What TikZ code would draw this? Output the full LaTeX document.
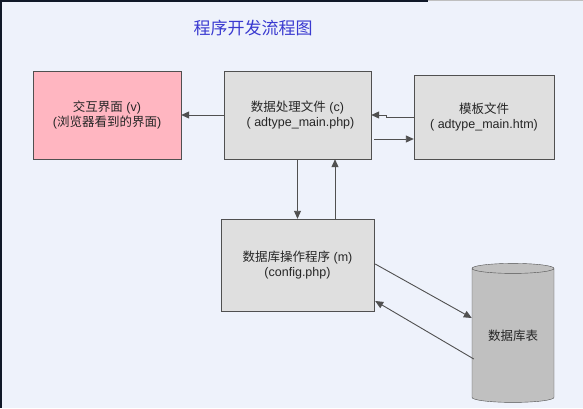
\documentclass[tikz,border=0pt]{standalone}
\usepackage{fontspec}
\setmainfont{Liberation Sans}
\newfontfamily\cjk{Noto Sans CJK SC}
\usetikzlibrary{arrows.meta,shapes.geometric}
\definecolor{bgcol}{RGB}{238,242,251}
\definecolor{edgecol}{RGB}{80,80,80}
\definecolor{boxgray}{RGB}{223,223,223}
\definecolor{boxpink}{RGB}{255,182,193}
\definecolor{dbgray}{RGB}{192,192,192}
\definecolor{titleblue}{RGB}{58,58,208}
\definecolor{framecol}{RGB}{16,24,40}
\begin{document}
\begin{tikzpicture}[x=1pt,y=-1pt,
    box/.style={draw=edgecol,fill=boxgray,align=center,font=\fontsize{12.5}{15}\selectfont,text=black!85,inner sep=0pt},
    arr/.style={draw=edgecol,line width=0.9pt,-{Triangle[length=8pt,width=7pt]}}]
    \fill[bgcol] (0,0) rectangle (583,408);
    \useasboundingbox (0,0) rectangle (583,408);
    \draw[framecol,line width=1.5pt] (0.75,408) -- (0.75,0.75) -- (428,0.75);
    \draw[black!25,line width=1pt] (428,0.5) -- (583,0.5);
    \node[text=titleblue,font=\cjk\fontsize{17}{20}\selectfont] (title) at (253,28) {程序开发流程图};
    \node[box,fill=boxpink,minimum width=148pt,minimum height=88pt] (v) at (107,115)
        {{\cjk 交互界面} (v)\\({\cjk 浏览器看到的界面})};
    \node[box,minimum width=147pt,minimum height=88pt] (c) at (297.5,115)
        {{\cjk 数据处理文件} (c)\\\hspace*{6pt}( adtype\_main.php)};
    \node[box,minimum width=140pt,minimum height=84pt] (t) at (484,117)
        {{\cjk 模板文件}\\( adtype\_main.htm)};
    \node[box,minimum width=153pt,minimum height=92pt] (m) at (297.5,265)
        {{\cjk 数据库操作程序} (m)\\(config.php)};
    \node[box,fill=dbgray,cylinder,shape border rotate=90,aspect=0.2,
        minimum width=82pt,minimum height=139pt] (db) at (513,335.5) {\cjk 数据库表};

    \def\list {c.west/v.east, c.south/m.north}  % straight links
    \foreach \u/\v in \list
    {   \draw[arr] (\u) -- (\v);
    }
    \draw[arr] (t.west) -- ++(-27,0) |- (c.east);
    \draw[arr] ([shift={(3pt,-24pt)}]c.east) -- ([yshift=-22pt]t.west);
    \draw[arr] ([xshift=37.5pt]m.north) -- ([xshift=37.5pt]c.south);
    \draw[arr] ([shift={(1pt,1pt)}]m.east) -- ([yshift=17.5pt]db.west);
    \draw[arr] ([shift={(2pt,-23.5pt)}]db.west) -- ([shift={(1pt,-36pt)}]m.east);
\end{tikzpicture}
\end{document}
